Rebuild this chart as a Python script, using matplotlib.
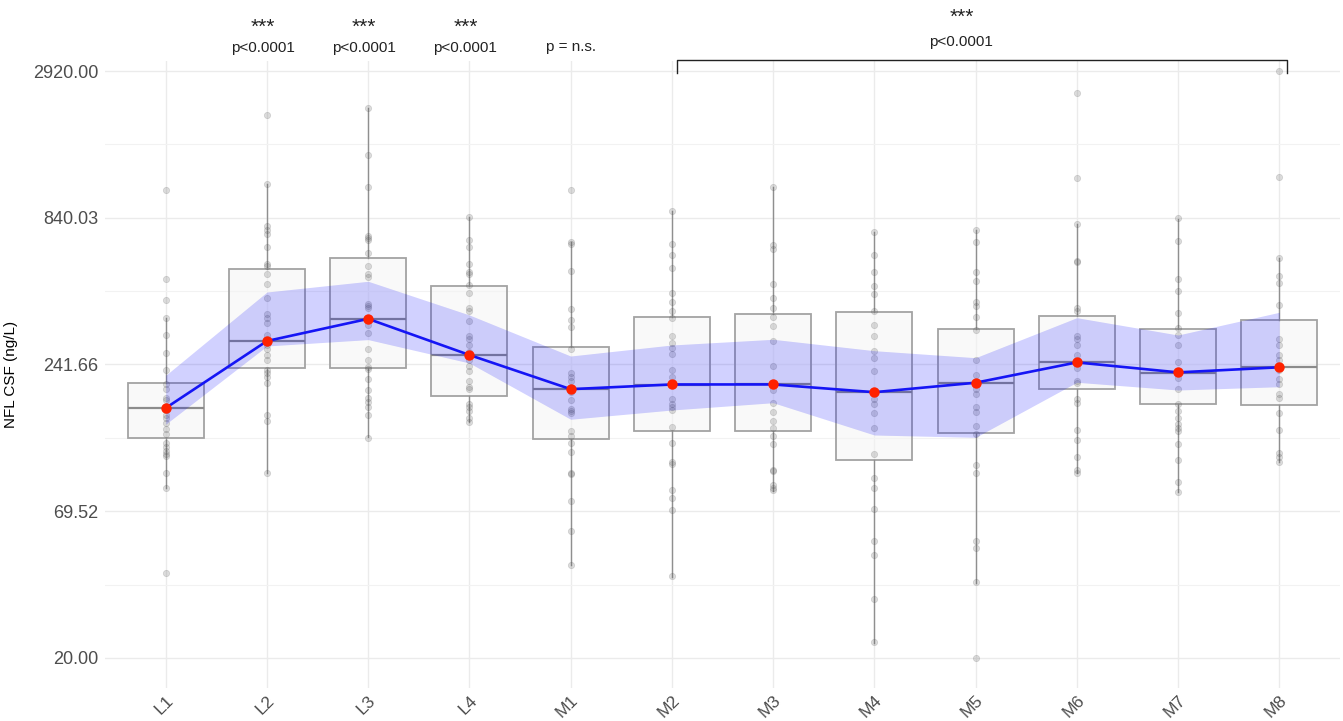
import numpy as np
import matplotlib
matplotlib.use('Agg')
import matplotlib.pyplot as plt
from matplotlib.ticker import FixedLocator, NullFormatter

plt.rcParams['font.family'] = ['Liberation Sans', 'DejaVu Sans']

groups = ['L1', 'L2', 'L3', 'L4', 'M1', 'M2', 'M3', 'M4', 'M5', 'M6', 'M7', 'M8']

# individual NFL values per visit (ng/L)
pts_L1 = [1064, 498, 418, 359, 310, 266, 230, 205, 197, 182, 179, 168, 164, 158, 153,
          147, 140, 134, 124, 120, 116, 113, 111, 96, 85, 41]
pts_L2 = [2017, 1117, 783, 754, 730, 653, 569, 557, 522, 477, 424, 371, 359, 345, 310,
          297, 285, 276, 263, 250, 231, 225, 217, 207, 158, 150, 96]
pts_L3 = [2129, 1429, 1089, 719, 707, 696, 622, 557, 522, 506, 404, 398, 392, 356, 337,
          316, 276, 250, 237, 233, 214, 194, 182, 176, 168, 158, 130]
pts_L4 = [843, 696, 653, 565, 530, 522, 475, 445, 392, 379, 350, 308, 299, 285, 268,
          262, 250, 239, 228, 210, 200, 197, 173, 168, 163, 153, 148]
pts_M1 = [1061, 685, 674, 534, 388, 353, 331, 276, 224, 217, 210, 196, 191, 179, 165,
          163, 160, 137, 132, 124, 115, 96, 95, 76, 59, 44]
pts_M2 = [890, 674, 613, 548, 445, 411, 379, 359, 308, 291, 278, 264, 231, 217, 204,
          180, 173, 168, 164, 142, 124, 106, 104, 83, 78, 70, 40]
pts_M3 = [1095, 664, 647, 477, 424, 392, 362, 334, 294, 239, 205, 194, 175, 161, 150,
          141, 132, 123, 99, 98, 87, 85, 83]
pts_M4 = [747, 613, 530, 470, 438, 379, 339, 308, 271, 255, 229, 191, 180, 173, 160,
          141, 113, 92, 85, 71, 54, 48, 33, 23]
pts_M5 = [759, 681, 530, 490, 411, 398, 362, 323, 250, 221, 207, 197, 188, 169, 161,
          143, 134, 103, 96, 54, 51, 38, 20]
pts_M6 = [2418, 1179, 796, 584, 575, 392, 379, 308, 299, 285, 262, 247, 235, 210, 207,
          180, 175, 139, 127, 110, 99, 96]
pts_M7 = [835, 690, 498, 450, 373, 329, 310, 285, 246, 227, 226, 216, 196, 173, 163,
          153, 146, 141, 137, 123, 107, 89, 82]
pts_M8 = [2920, 1186, 599, 514, 482, 401, 301, 285, 263, 251, 230, 214, 204, 188, 182,
          160, 139, 114, 110, 106]
points = [pts_L1, pts_L2, pts_L3, pts_L4, pts_M1, pts_M2, pts_M3, pts_M4,
          pts_M5, pts_M6, pts_M7, pts_M8]

# boxplot statistics
q1 = [129.1, 234.0, 235.2, 185.0, 128.9, 137.4, 137.4, 107.4, 135.2, 197.1, 173.4, 170.8]
med = [166.6, 295.0, 355.6, 262.0, 195.9, 203.6, 204.3, 190.9, 206.7, 246.4, 225.4, 236.4]
q3 = [206.0, 542.3, 598.4, 469.8, 279.2, 361.7, 369.5, 377.1, 325.6, 365.1, 325.6, 353.5]
whis_lo = [84.6, 96.0, 130.1, 147.8, 43.9, 39.9, 82.7, 22.8, 37.7, 96.0, 81.9, 105.6]
whis_hi = [359.3, 1116.8, 2129, 843.3, 684.9, 890.3, 1095.2, 746.9, 759.0, 795.9, 834.7, 598.9]

# model estimate with confidence band
est = [167, 295, 356, 262, 196, 204, 204, 191, 207, 246, 226, 236]
ci_lo = [145.6, 282.8, 298.5, 244.7, 151.8, 164.2, 174.7, 132.8, 130.2, 207.8, 194.6, 200.1]
ci_hi = [220.5, 447.2, 489.8, 367.9, 259.7, 285.2, 299.3, 271.7, 256.0, 359.6, 310.4, 376.4]

yticks = np.array([20.00, 69.52, 241.66, 840.03, 2920.00])

fig = plt.figure(figsize=(13.43, 7.21), dpi=100)
ax = fig.add_axes([105 / 1343, 1 - 688 / 721, 1235 / 1343, 627 / 721])
ax.set_yscale('log')
ax.set_ylim(15.5, 3179)
ax.set_xlim(-0.6, 11.6)

x = np.arange(len(groups))

stats = []
for i in range(len(groups)):
    stats.append(dict(q1=q1[i], med=med[i], q3=q3[i], whislo=whis_lo[i], whishi=whis_hi[i]))
ax.bxp(stats, positions=x, widths=0.75, patch_artist=True, showfliers=False,
       showcaps=False, manage_ticks=False,
       boxprops=dict(facecolor=(0.96, 0.96, 0.96, 0.6), edgecolor='#a3a3a3', linewidth=1.3),
       whiskerprops=dict(color='#8f8f8f', linewidth=1.0),
       medianprops=dict(color='#8c8c8c', linewidth=1.6), zorder=2)

for i, vals in enumerate(points):
    ax.plot(np.full(len(vals), i), vals, 'o', ms=4.5, color='#555555', alpha=0.2,
            mew=0.6, zorder=3)

ax.fill_between(x, ci_lo, ci_hi, color='#0000ff', alpha=0.18, lw=0, zorder=4)
ax.plot(x, est, color='#1515f5', lw=1.9, zorder=5)
ax.plot(x, est, 'o', color='#ff2200', ms=7.5, mec='none', zorder=6)

# axes, grid, ticks
for s in ax.spines.values():
    s.set_visible(False)
ax.set_yticks(yticks)
ax.set_yticklabels(['%.2f' % t for t in yticks])
ax.yaxis.set_minor_locator(FixedLocator(np.sqrt(yticks[:-1] * yticks[1:])))
ax.yaxis.set_minor_formatter(NullFormatter())
ax.set_xticks(x)
ax.set_xticklabels(groups, rotation=45, ha='right', va='top', rotation_mode='anchor',
                   fontsize=12.5)
ax.tick_params(which='both', length=0, labelsize=13, labelcolor='#4d4d4d')
ax.tick_params(axis='y', pad=4.5)
ax.tick_params(axis='x', pad=3.5, labelsize=12.5)
ax.set_axisbelow(True)
ax.grid(which='major', color='#ebebeb', lw=1.0)
ax.grid(which='minor', axis='y', color='#f2f2f2', lw=0.8)

ax.set_ylabel('NFL CSF (ng/L)', fontsize=11)
ax.yaxis.set_label_coords(-0.0704, 0.5)

# significance annotations
tr = ax.get_xaxis_transform()


def fy(p):
    return (688 - p) / 627


for i in [1, 2, 3]:
    ax.text(i - 0.04, fy(27), '***', ha='center', va='center', fontsize=15,
            color='#222222', transform=tr)
    ax.text(i - 0.04, fy(48), 'p<0.0001', ha='center', va='center', fontsize=11,
            color='#222222', transform=tr)
ax.text(4, fy(47), 'p = n.s.', ha='center', va='center', fontsize=11,
        color='#222222', transform=tr)

ax.plot([5.05, 5.05, 11.08, 11.08], [fy(72.5), fy(60), fy(60), fy(72.5)],
        color='#222222', lw=1.0, transform=tr, clip_on=False)
ax.text(7.86, fy(17), '***', ha='center', va='center', fontsize=15,
        color='#222222', transform=tr)
ax.text(7.86, fy(42), 'p<0.0001', ha='center', va='center', fontsize=11,
        color='#222222', transform=tr)

fig.savefig('out.png', dpi=100)
